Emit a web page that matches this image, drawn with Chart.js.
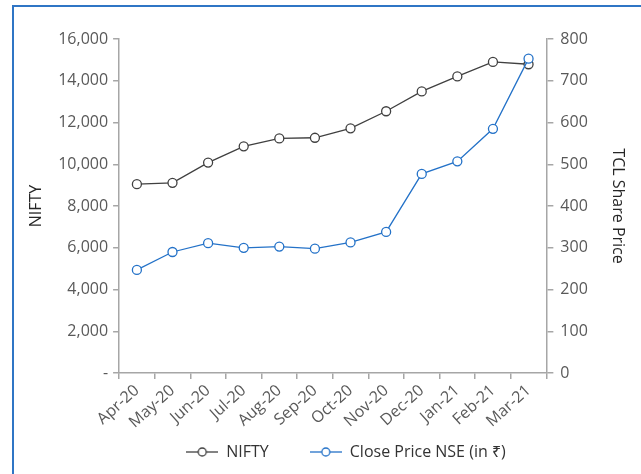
<!DOCTYPE html>
<html>
<head>
<meta charset="utf-8">
<script src="https://cdn.jsdelivr.net/npm/chart.js@4"></script>
<style>
  html, body { margin: 0; padding: 0; background: #fff; overflow: hidden; }
  #wrap { position: relative; width: 641px; height: 474px; }
  #frame { position: absolute; left: 12px; top: 5px; width: 700px; height: 600px;
           border: 2px solid #2f75c5; pointer-events: none; }
  canvas { position: absolute; left: 0; top: 0; }
</style>
</head>
<body>
<div id="wrap">
  <canvas id="chart" width="641" height="474"></canvas>
  <div id="frame"></div>
</div>
<script>
const months = ["Apr-20", "May-20", "Jun-20", "Jul-20", "Aug-20", "Sep-20", "Oct-20", "Nov-20", "Dec-20", "Jan-21", "Feb-21", "Mar-21"]
const nifty = [9050, 9110, 10080, 10860, 11240, 11270, 11720, 12540, 13490, 14210, 14900, 14790]
const tclClose = [247, 290, 311, 300, 303, 298, 313, 338, 477, 507, 585, 753]

const grey = "#404040"
const blue = "#2472c8"
const axisGrey = "#a6a6a6"
const fontFamily = "'Open Sans', 'Noto Sans', sans-serif"

// little "line with a circle" icon for the legend
function legendIcon(color) {
    const c = document.createElement("canvas")
    c.width = 32
    c.height = 12
    const g = c.getContext("2d")
    g.strokeStyle = color
    g.lineWidth = 1.3
    g.beginPath()
    g.moveTo(0, 6)
    g.lineTo(32, 6)
    g.stroke()
    g.beginPath()
    g.arc(16, 6, 4, 0, Math.PI * 2)
    g.fillStyle = "#fff"
    g.fill()
    g.stroke()
    return c
}
const icons = [legendIcon(grey), legendIcon(blue)]

// move the legend to where it sits in the original
const legendShift = {
    id: "legendShift",
    afterLayout(chart) {
        const lg = chart.legend
        const dx = 19
        lg.left += dx
        lg.right += dx
        lg.top = 452 - 41 - 8
        lg.bottom = chart.height
    }
}

new Chart(document.getElementById("chart"), {
    type: "line",
    data: {
        labels: months,
        datasets: [{
            label: "NIFTY",
            data: nifty,
            yAxisID: "y",
            borderColor: grey,
            backgroundColor: "#fff",
            borderWidth: 1.3,
            pointRadius: 4.5,
            pointBorderWidth: 1.3,
            pointBackgroundColor: "#fff",
            order: 1
        }, {
            label: "Close Price NSE (in ₹)",
            data: tclClose,
            yAxisID: "y1",
            borderColor: blue,
            backgroundColor: "#fff",
            borderWidth: 1.3,
            pointRadius: 4.5,
            pointBorderWidth: 1.3,
            pointBackgroundColor: "#fff",
            order: 0
        }]
    },
    options: {
        responsive: false,
        animation: false,
        events: [],
        layout: { padding: { left: 23, right: 10, top: 39, bottom: 4 } },
        font: { family: fontFamily, size: 16 },
        scales: {
            x: {
                offset: true,
                grid: { drawOnChartArea: false, offset: true, tickLength: 6, color: axisGrey, lineWidth: 1.5 },
                border: { color: axisGrey, width: 1.5 },
                ticks: {
                    autoSkip: false, minRotation: 42, maxRotation: 42, padding: 2,
                    color: "#595959", font: { family: fontFamily, size: 16 }
                }
            },
            y: {
                position: "left",
                min: 0, max: 16000,
                grid: { drawOnChartArea: false, tickLength: 6, color: axisGrey, lineWidth: 1.5 },
                border: { color: axisGrey, width: 1.5 },
                ticks: {
                    stepSize: 2000, padding: 5, color: "#595959",
                    font: { family: fontFamily, size: 16 },
                    callback: v => v === 0 ? "-" : v.toLocaleString("en-US")
                },
                title: {
                    display: true, text: "NIFTY", color: "#262626",
                    font: { family: fontFamily, size: 16 },
                    padding: { top: 4, bottom: 7 }
                }
            },
            y1: {
                position: "right",
                min: 0, max: 800,
                grid: { drawOnChartArea: false, tickLength: 7, color: axisGrey, lineWidth: 1.5 },
                border: { color: axisGrey, width: 1.5 },
                ticks: {
                    stepSize: 100, padding: 7, color: "#595959",
                    font: { family: fontFamily, size: 16 }
                },
                title: {
                    display: true, text: "TCL Share Price", color: "#262626",
                    font: { family: fontFamily, size: 16 },
                    padding: { top: 4, bottom: 13 }
                }
            }
        },
        plugins: {
            tooltip: { enabled: false },
            legend: {
                position: "bottom",
                maxHeight: 36,
                labels: {
                    usePointStyle: true,
                    pointStyleWidth: 32,
                    padding: 41,
                    color: "#333",
                    font: { family: fontFamily, size: 16 },
                    sort: (a, b) => a.datasetIndex - b.datasetIndex,
                    generateLabels: chart => {
                        const items = Chart.defaults.plugins.legend.labels.generateLabels(chart)
                        items.forEach(it => { it.pointStyle = icons[it.datasetIndex] })
                        return items
                    }
                }
            }
        }
    },
    plugins: [legendShift]
})
</script>
</body>
</html>
